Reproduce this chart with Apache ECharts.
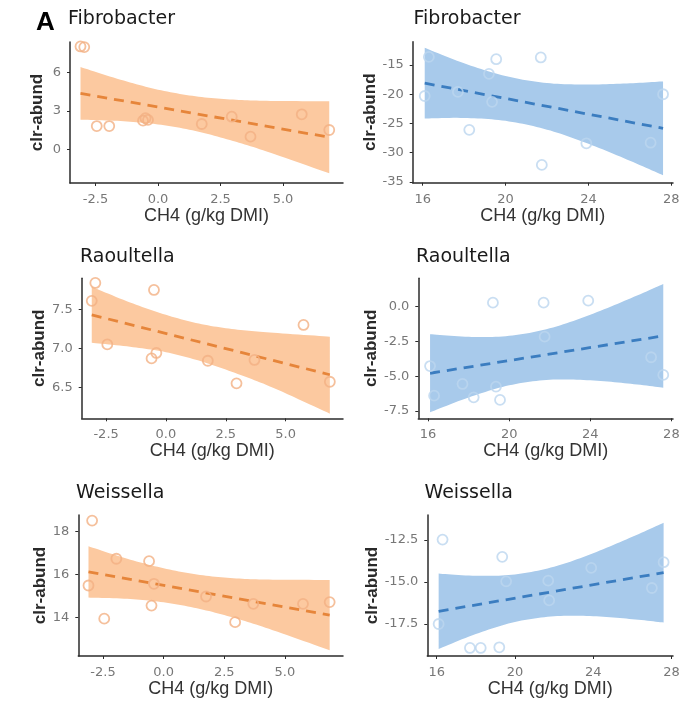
<!DOCTYPE html>
<html>
<head>
<meta charset="utf-8">
<script src="https://cdn.jsdelivr.net/npm/echarts@6/dist/echarts.min.js"></script>
<style>
html,body{margin:0;padding:0;background:#fff;}
#chart{width:698px;height:704px;}
</style>
</head>
<body>
<div id="chart"></div>
<script>
// ---------------- DATA ----------------
const panelTitles = ['Fibrobacter', 'Fibrobacter', 'Raoultella', 'Raoultella', 'Weissella', 'Weissella'];
const xAxisTitle = 'CH4 (g/kg DMI)';
const yAxisTitle = 'clr-abund';

// sample CH4 values (left column / right column)
const leftX  = [-3.1, -2.95, -2.45, -1.95, -0.6, -0.5, -0.4, 1.75, 2.95, 3.7, 5.75, 6.85];
const rightX = [16.1, 16.3, 17.7, 18.25, 19.2, 19.35, 19.55, 21.7, 21.75, 23.9, 27.0, 27.6];

// clr abundances per panel
const fibroLeftY  = [8.05, 8.0, 1.82, 1.82, 2.24, 2.43, 2.3, 1.98, 2.55, 0.99, 2.74, 1.51];
const fibroRightY = [-20.3, -13.6, -19.6, -26.1, -16.5, -21.3, -14.0, -13.7, -32.1, -28.4, -28.3, -20.0];
const raoulLeftY  = [7.61, 7.84, 7.05, null, 6.87, 7.75, 6.94, 6.84, 6.55, 6.85, 7.30, 6.57];
const raoulRightY = [-4.27, -6.40, -5.56, -6.52, 0.29, -5.75, -6.71, 0.29, -2.16, 0.43, -3.64, -4.91];
const weissLeftY  = [15.49, 18.5, 13.95, 16.73, 16.62, 14.56, 15.57, 14.98, 13.79, 14.64, 14.64, 14.72];
const weissRightY = [-17.51, -12.47, -18.94, -18.94, -18.9, -13.5, -14.96, -14.92, -16.1, -14.16, -15.36, -13.82];

// confidence bands
const bandLeftX  = [-3.1, -1.5, 0, 1.5, 3, 4.5, 6.85];
const bandRightX = [16.1, 18, 20, 22, 24, 26, 27.6];
const fibroLeftUpper  = [6.44, 5.45, 4.67, 4.15, 3.89, 3.79, 3.76];
const fibroLeftLower  = [2.32, 2.21, 1.95, 1.43, 0.65, -0.27, -1.88];
const fibroLeftFit    = [4.38, 0.94];
const fibroRightUpper = [-12.04, -14.70, -16.88, -18.08, -18.33, -18.13, -17.80];
const fibroRightLower = [-24.16, -24.06, -24.56, -26.06, -28.49, -31.39, -33.88];
const fibroRightFit   = [-18.1, -25.84];
const raoulLeftUpper  = [7.79, 7.59, 7.43, 7.31, 7.24, 7.20, 7.15];
const raoulLeftLower  = [7.07, 7.02, 6.95, 6.83, 6.67, 6.49, 6.16];
const raoulLeftFit    = [7.43, 6.66];
const raoulRightUpper = [-1.98, -2.17, -2.10, -1.56, -0.58, 0.61, 1.63];
const raoulRightLower = [-7.60, -6.53, -5.66, -5.26, -5.30, -5.55, -5.83];
const raoulRightFit   = [-4.79, -2.10];
const weissLeftUpper  = [17.31, 16.73, 16.29, 15.98, 15.82, 15.76, 15.75];
const weissLeftLower  = [14.93, 14.87, 14.71, 14.40, 13.96, 13.42, 12.49];
const weissLeftFit    = [16.12, 14.12];
const weissRightUpper = [-14.50, -14.63, -14.55, -14.09, -13.28, -12.30, -11.46];
const weissRightLower = [-19.00, -18.11, -17.39, -17.05, -17.04, -17.22, -17.42];
const weissRightFit   = [-16.75, -14.44];

// tick labels
const leftXTicks  = [-2.5, 0, 2.5, 5];
const rightXTicks = [16, 20, 24, 28];
const fibroLeftYTicks  = [0, 3, 6];
const fibroRightYTicks = [-35, -30, -25, -20, -15];
const raoulLeftYTicks  = [6.5, 7.0, 7.5];
const raoulRightYTicks = [-7.5, -5.0, -2.5, 0.0];
const weissLeftYTicks  = [14, 16, 18];
const weissRightYTicks = [-17.5, -15.0, -12.5];

// ---------------- LAYOUT / STYLE ----------------
const LEFT_STYLE  = {band: '#fcc9a0', line: '#e6853a', point: '#f3b083'};
const RIGHT_STYLE = {band: '#a8caeb', line: '#3b7dc0', point: '#bcd6ef'};

const panels = [
  {x: leftX,  y: fibroLeftY,  bx: bandLeftX,  up: fibroLeftUpper,  lo: fibroLeftLower,  fit: fibroLeftFit,
   xt: leftXTicks, xd: 1, yt: fibroLeftYTicks, yd: 0, xr: [-3.52, 7.4], yr: [-2.64, 8.4],
   grid: {left: 70, top: 42, width: 273, height: 141}, st: LEFT_STYLE, yGap: 24, title: [68, 10]},
  {x: rightX, y: fibroRightY, bx: bandRightX, up: fibroRightUpper, lo: fibroRightLower, fit: fibroRightFit,
   xt: rightXTicks, xd: 0, yt: fibroRightYTicks, yd: 0, xr: [15.52, 28.08], yr: [-35.15, -11.0],
   grid: {left: 412.7, top: 41.7, width: 260.3, height: 141}, st: RIGHT_STYLE, yGap: 28.4, title: [413.5, 10]},
  {x: leftX,  y: raoulLeftY,  bx: bandLeftX,  up: raoulLeftUpper,  lo: raoulLeftLower,  fit: raoulLeftFit,
   xt: leftXTicks, xd: 1, yt: raoulLeftYTicks, yd: 1, xr: [-3.52, 7.4], yr: [6.10, 7.90],
   grid: {left: 81.7, top: 278.3, width: 261.3, height: 140}, st: LEFT_STYLE, yGap: 30.8, title: [80, 248]},
  {x: rightX, y: raoulRightY, bx: bandRightX, up: raoulRightUpper, lo: raoulRightLower, fit: raoulRightFit,
   xt: rightXTicks, xd: 0, yt: raoulRightYTicks, yd: 1, xr: [15.52, 28.08], yr: [-8.03, 2.04],
   grid: {left: 418.3, top: 278.3, width: 254.7, height: 140}, st: RIGHT_STYLE, yGap: 33, title: [416, 248]},
  {x: leftX,  y: weissLeftY,  bx: bandLeftX,  up: weissLeftUpper,  lo: weissLeftLower,  fit: weissLeftFit,
   xt: leftXTicks, xd: 1, yt: weissLeftYTicks, yd: 0, xr: [-3.52, 7.4], yr: [12.22, 18.76],
   grid: {left: 78.3, top: 515, width: 264.7, height: 141}, st: LEFT_STYLE, yGap: 29, title: [76, 484]},
  {x: rightX, y: weissRightY, bx: bandRightX, up: weissRightUpper, lo: weissRightLower, fit: weissRightFit,
   xt: rightXTicks, xd: 0, yt: weissRightYTicks, yd: 1, xr: [15.52, 28.08], yr: [-19.42, -11.0],
   grid: {left: 427.3, top: 515, width: 245.7, height: 141}, st: RIGHT_STYLE, yGap: 42, title: [424.5, 484]}
];

const AXIS_COLOR = '#2b2b2b';
const TICK_LABEL = {color: '#777777', fontFamily: 'DejaVu Sans', fontSize: 13};

// smooth a pixel-space polyline (Catmull-Rom) for drawing the band edges
function smoothPixels(pts, steps) {
  const out = [];
  const n = pts.length;
  for (let i = 0; i < n - 1; i++) {
    const p0 = pts[Math.max(i - 1, 0)], p1 = pts[i], p2 = pts[i + 1], p3 = pts[Math.min(i + 2, n - 1)];
    for (let s = 0; s < steps; s++) {
      const t = s / steps, t2 = t * t, t3 = t2 * t;
      const c = k => 0.5 * (2 * p1[k] + (-p0[k] + p2[k]) * t +
        (2 * p0[k] - 5 * p1[k] + 4 * p2[k] - p3[k]) * t2 +
        (-p0[k] + 3 * p1[k] - 3 * p2[k] + p3[k]) * t3);
      out.push([c(0), c(1)]);
    }
  }
  out.push(pts[n - 1]);
  return out;
}

const grids = [], xAxes = [], yAxes = [], series = [], graphics = [];

graphics.push({type: 'text', left: 36, top: 10,
  style: {text: 'A', font: 'bold 26px "Liberation Sans"', fill: '#000'}});

panels.forEach((p, i) => {
  grids.push(Object.assign({containLabel: false, outerBoundsMode: 'none'}, p.grid));
  xAxes.push({
    type: 'value', gridIndex: i, min: p.xr[0], max: p.xr[1],
    name: xAxisTitle, nameLocation: 'middle', nameGap: 19.5,
    nameTextStyle: {fontFamily: 'Liberation Sans', fontSize: 18, color: '#333333'},
    axisLine: {show: true, onZero: false, lineStyle: {color: AXIS_COLOR, width: 1.5}},
    axisTick: {show: true, length: 3, customValues: p.xt, lineStyle: {color: AXIS_COLOR, width: 1}},
    axisLabel: Object.assign({customValues: p.xt, margin: 10,
      formatter: v => Number(v).toFixed(p.xd)}, TICK_LABEL),
    splitLine: {show: false}
  });
  yAxes.push({
    type: 'value', gridIndex: i, min: p.yr[0], max: p.yr[1],
    name: yAxisTitle, nameLocation: 'middle', nameGap: p.yGap, nameRotate: 90,
    nameTextStyle: {fontFamily: 'Liberation Sans', fontSize: 17, fontWeight: 'bold', color: '#2a2a2a'},
    axisLine: {show: true, onZero: false, lineStyle: {color: AXIS_COLOR, width: 1.5}},
    axisTick: {show: true, length: 3, customValues: p.yt, lineStyle: {color: AXIS_COLOR, width: 1}},
    axisLabel: Object.assign({customValues: p.yt, margin: 9,
      formatter: v => Number(v).toFixed(p.yd)}, TICK_LABEL),
    splitLine: {show: false}
  });
  // confidence band: one polygon through upper edge then lower edge
  series.push({
    type: 'custom', coordinateSystem: 'cartesian2d', xAxisIndex: i, yAxisIndex: i,
    data: p.bx.map((x, k) => [x, p.lo[k], p.up[k]]),
    encode: {x: 0, y: [1, 2]},
    renderItem: (params, api) => {
      if (params.dataIndex !== 0) return null;
      const upper = p.bx.map((x, k) => api.coord([x, p.up[k]]));
      const lower = p.bx.map((x, k) => api.coord([x, p.lo[k]]));
      const pts = smoothPixels(upper, 12).concat(smoothPixels(lower, 12).reverse());
      return {type: 'polygon', shape: {points: pts}, style: {fill: p.st.band}, silent: true};
    },
    z: 1, silent: true, animation: false
  });
  series.push({
    type: 'line', xAxisIndex: i, yAxisIndex: i,
    data: [[p.bx[0], p.fit[0]], [p.bx[p.bx.length - 1], p.fit[1]]],
    symbol: 'none', lineStyle: {color: p.st.line, width: 2.8, type: [10, 7]}, z: 3, animation: false
  });
  series.push({
    type: 'scatter', xAxisIndex: i, yAxisIndex: i,
    data: p.x.map((x, k) => [x, p.y[k]]).filter(d => d[1] !== null),
    symbol: 'circle', symbolSize: 10,
    itemStyle: {color: 'rgba(255,255,255,0)', borderColor: p.st.point, borderWidth: 1.8},
    z: 5, animation: false
  });
  graphics.push({type: 'text', left: p.title[0], top: p.title[1],
    style: {text: panelTitles[i], font: '19px "DejaVu Sans"', fill: '#1a1a1a'}});
});

const chart = echarts.init(document.getElementById('chart'), null, {renderer: 'canvas'});
chart.setOption({
  backgroundColor: '#ffffff',
  animation: false,
  grid: grids, xAxis: xAxes, yAxis: yAxes, series: series, graphic: graphics
});
</script>
</body>
</html>
